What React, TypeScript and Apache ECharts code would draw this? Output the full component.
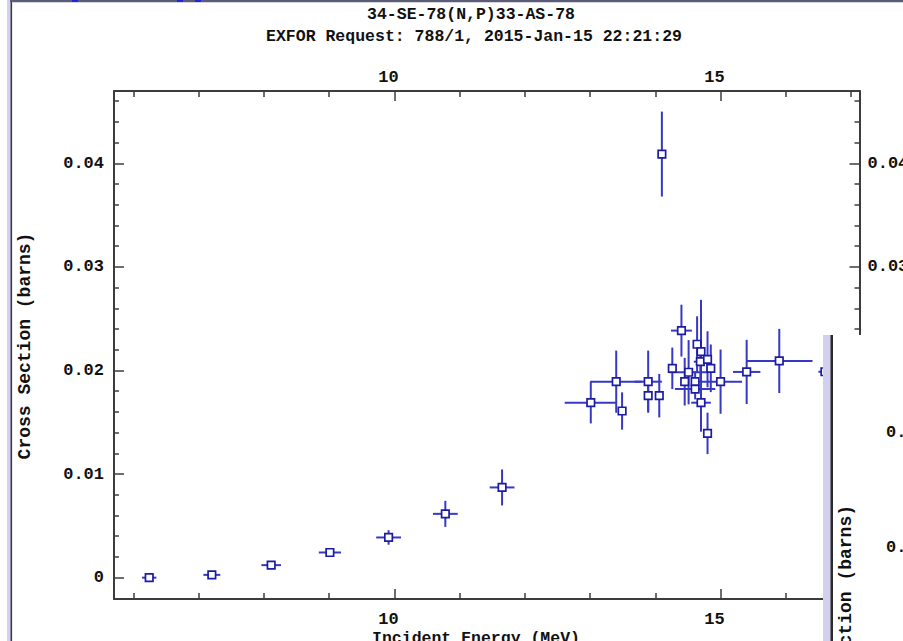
import React, { useEffect, useRef } from 'react';
import * as echarts from 'echarts';

// Titles and axis names
const titleMain = '34-SE-78(N,P)33-AS-78';
const titleSub = 'EXFOR Request: 788/1, 2015-Jan-15 22:21:29';
const xAxisTitle = 'Incident Energy (MeV)';
const yAxisTitle = 'Cross Section (barns)';

// Measured points: incident energy (MeV) with its uncertainty,
// cross section (barns) with its uncertainty
const energy = [
  6.24, 7.2, 8.11, 9.01, 9.91, 10.78, 11.65,
  13.01, 13.4, 13.89, 13.89, 13.49, 14.06, 14.1,
  14.4, 14.26, 14.51, 14.45, 14.61, 14.61, 14.64,
  14.7, 14.7, 14.69, 14.8, 14.85, 14.8, 15.0,
  15.4, 15.9, 16.6,
];
const energyErr = [
  0.11, 0.13, 0.15, 0.17, 0.19, 0.19, 0.19,
  0.4, 0.4, 0.21, 0.03, 0.03, 0.03, 0.03,
  0.16, 0.05, 0.3, 0.05, 0.05, 0.31, 0.05,
  0.15, 0.05, 0.1, 0.05, 0.05, 0.05, 0.33,
  0.21, 0.51, 0.1,
];
const crossSection = [
  0.0, 0.00027, 0.00121, 0.00243, 0.00388, 0.00616, 0.00871,
  0.01689, 0.01892, 0.01892, 0.01757, 0.01609, 0.01757, 0.04089,
  0.02385, 0.02021, 0.01983, 0.01892, 0.01892, 0.01821, 0.02253,
  0.01689, 0.02182, 0.02085, 0.02108, 0.02021, 0.01393, 0.01892,
  0.01986, 0.02092, 0.01988,
];
const crossSectionErr = [
  0.0001, 0.0001, 0.0002, 0.0003, 0.0007, 0.00126, 0.00174,
  0.002, 0.003, 0.003, 0.0015, 0.0018, 0.0021, 0.0041,
  0.0025, 0.002, 0.0031, 0.0023, 0.001, 0.001, 0.0027,
  0.0028, 0.005, 0.0015, 0.0027, 0.0023, 0.002, 0.0031,
  0.0031, 0.0031, 0.0005,
];

// Axis ticks
const xMajorTicks = [10, 15];
const xMinorTicks = [6, 7, 8, 9, 11, 12, 13, 14, 16, 17];
const yMajorTicks = [0, 0.01, 0.02, 0.03, 0.04];
const yMinorTicks = [
  0.002, 0.004, 0.006, 0.008, 0.012, 0.014, 0.016, 0.018,
  0.022, 0.024, 0.026, 0.028, 0.032, 0.034, 0.036, 0.038,
  0.042, 0.044, 0.046,
];
// Right-hand labels left uncovered by the neighbouring window
const yRightLabels = [0.03, 0.04];
// Tick labels of the neighbouring window's plot
const sideLabels = ['0.02', '0.01'];

const X_MIN = 5.7;
const X_MAX = 17.13;
const Y_MIN = -0.00206;
const Y_MAX = 0.04698;

const FONT = '"Liberation Mono", "DejaVu Sans Mono", monospace';
const AXIS_COLOR = '#3c3c3c';
const BAR_COLOR = '#3838c6';
const MARK_COLOR = '#1c1ca2';
const LAVENDER = '#d3cfee';

const labelStyle = {
  fontFamily: FONT,
  fontWeight: 'bold' as const,
  fontSize: 17,
  color: '#111',
};

function xAxisDef(position: 'top' | 'bottom', major: boolean) {
  return {
    type: 'value',
    position,
    min: X_MIN,
    max: X_MAX,
    axisLine: { show: major, onZero: false, lineStyle: { color: AXIS_COLOR, width: 2 } },
    axisTick: {
      show: true,
      inside: true,
      length: major ? 10 : 6,
      customValues: major ? xMajorTicks : xMinorTicks,
      lineStyle: { color: AXIS_COLOR, width: 1.5 },
    },
    axisLabel: {
      show: major,
      customValues: xMajorTicks,
      margin: position === 'top' ? 5 : 12,
      padding: [0, 12, 0, 0],
      ...labelStyle,
    },
    splitLine: { show: false },
  };
}

function yAxisDef(position: 'left' | 'right', major: boolean) {
  return {
    type: 'value',
    position,
    min: Y_MIN,
    max: Y_MAX,
    axisLine: { show: major, onZero: false, lineStyle: { color: AXIS_COLOR, width: 2 } },
    axisTick: {
      show: true,
      inside: true,
      length: major ? 10 : 5,
      customValues: major ? yMajorTicks : yMinorTicks,
      lineStyle: { color: AXIS_COLOR, width: 1.5 },
    },
    axisLabel: {
      show: major,
      customValues: position === 'left' ? yMajorTicks : yRightLabels,
      margin: position === 'left' ? 10 : 8,
      ...labelStyle,
    },
    splitLine: { show: false },
  };
}

export default function App() {
  const ref = useRef<HTMLDivElement>(null);

  useEffect(() => {
    if (!ref.current) return;
    const chart = echarts.init(ref.current, null, { renderer: 'svg' });

    const points = energy.map((e, i) => [e, crossSection[i], energyErr[i], crossSectionErr[i]]);

    chart.setOption({
      animation: false,
      backgroundColor: '#ffffff',
      textStyle: { fontFamily: FONT },
      grid: {
        left: 114,
        right: 43.5,
        top: 91,
        bottom: 42,
        containLabel: false,
        outerBoundsMode: 'none',
      },
      xAxis: [
        xAxisDef('bottom', true),
        xAxisDef('top', true),
        xAxisDef('bottom', false),
        xAxisDef('top', false),
      ],
      yAxis: [
        yAxisDef('left', true),
        yAxisDef('right', true),
        yAxisDef('left', false),
        yAxisDef('right', false),
      ],
      series: [
        {
          type: 'custom',
          xAxisIndex: 0,
          yAxisIndex: 0,
          z: 2,
          data: points,
          renderItem: (_params: any, api: any) => {
            const x = api.value(0);
            const y = api.value(1);
            const dx = api.value(2);
            const dy = api.value(3);
            const l = api.coord([x - dx, y]);
            const r = api.coord([x + dx, y]);
            const t = api.coord([x, y + dy]);
            const b = api.coord([x, y - dy]);
            const style = { stroke: BAR_COLOR, lineWidth: 2 };
            return {
              type: 'group',
              children: [
                { type: 'line', shape: { x1: l[0], y1: l[1], x2: r[0], y2: r[1] }, style },
                { type: 'line', shape: { x1: t[0], y1: t[1], x2: b[0], y2: b[1] }, style },
              ],
            };
          },
        },
        {
          type: 'scatter',
          xAxisIndex: 0,
          yAxisIndex: 0,
          z: 3,
          symbol: 'rect',
          symbolSize: 7.5,
          itemStyle: { color: '#ffffff', borderColor: MARK_COLOR, borderWidth: 1.7, opacity: 1 },
          data: points.map((p) => [p[0], p[1]]),
        },
      ],
      graphic: [
        // window frame: left border and top edge
        { type: 'rect', z: 100, shape: { x: 7, y: 0, width: 3.5, height: 641 }, style: { fill: LAVENDER } },
        { type: 'rect', z: 100, shape: { x: 10.5, y: 0, width: 1.6, height: 641 }, style: { fill: '#34344e' } },
        { type: 'rect', z: 100, shape: { x: 10, y: 0, width: 893, height: 2.2 }, style: { fill: '#5b5b7a' } },
        { type: 'rect', z: 101, shape: { x: 72, y: 0, width: 6, height: 2 }, style: { fill: '#2424e0' } },
        { type: 'rect', z: 101, shape: { x: 177, y: 0, width: 6, height: 2 }, style: { fill: '#2424e0' } },
        { type: 'rect', z: 101, shape: { x: 195, y: 0, width: 6, height: 2 }, style: { fill: '#2424e0' } },
        // titles
        {
          type: 'text', z: 100, x: 471, y: 14,
          style: { text: titleMain, fontFamily: FONT, fontWeight: 'bold', fontSize: 16.5, fill: '#111', align: 'center', verticalAlign: 'middle' },
        },
        {
          type: 'text', z: 100, x: 474, y: 36,
          style: { text: titleSub, fontFamily: FONT, fontWeight: 'bold', fontSize: 16.5, fill: '#111', align: 'center', verticalAlign: 'middle' },
        },
        // axis names
        {
          type: 'text', z: 100, x: 25, y: 346, rotation: Math.PI / 2,
          style: { text: yAxisTitle, fontFamily: FONT, fontWeight: 'bold', fontSize: 18, fill: '#111', align: 'center', verticalAlign: 'middle' },
        },
        {
          type: 'text', z: 100, x: 476, y: 638,
          style: { text: xAxisTitle, fontFamily: FONT, fontWeight: 'bold', fontSize: 16.5, fill: '#111', align: 'center', verticalAlign: 'middle' },
        },
        // neighbouring window overlapping the lower right corner
        {
          type: 'group', z: 200,
          children: [
            { type: 'rect', z: 200, shape: { x: 823, y: 335, width: 80, height: 306 }, style: { fill: '#ffffff' } },
            { type: 'rect', z: 201, shape: { x: 823, y: 335, width: 8, height: 306 }, style: { fill: LAVENDER } },
            { type: 'rect', z: 201, shape: { x: 830.5, y: 335, width: 2.5, height: 306 }, style: { fill: '#2a2a2a' } },
            {
              type: 'text', z: 202, x: 886, y: 432,
              style: { text: sideLabels[0], fontFamily: FONT, fontWeight: 'bold', fontSize: 17, fill: '#111', align: 'left', verticalAlign: 'middle' },
            },
            {
              type: 'text', z: 202, x: 886, y: 547,
              style: { text: sideLabels[1], fontFamily: FONT, fontWeight: 'bold', fontSize: 17, fill: '#111', align: 'left', verticalAlign: 'middle' },
            },
            {
              type: 'text', z: 202, x: 846, y: 505, rotation: Math.PI / 2,
              style: { text: yAxisTitle, fontFamily: FONT, fontWeight: 'bold', fontSize: 18, fill: '#111', align: 'right', verticalAlign: 'middle' },
            },
          ],
        },
      ],
    });

    return () => chart.dispose();
  }, []);

  return (
    <div
      ref={ref}
      style={{ position: 'fixed', left: 0, top: 0, width: 903, height: 641, background: '#fff' }}
    />
  );
}
